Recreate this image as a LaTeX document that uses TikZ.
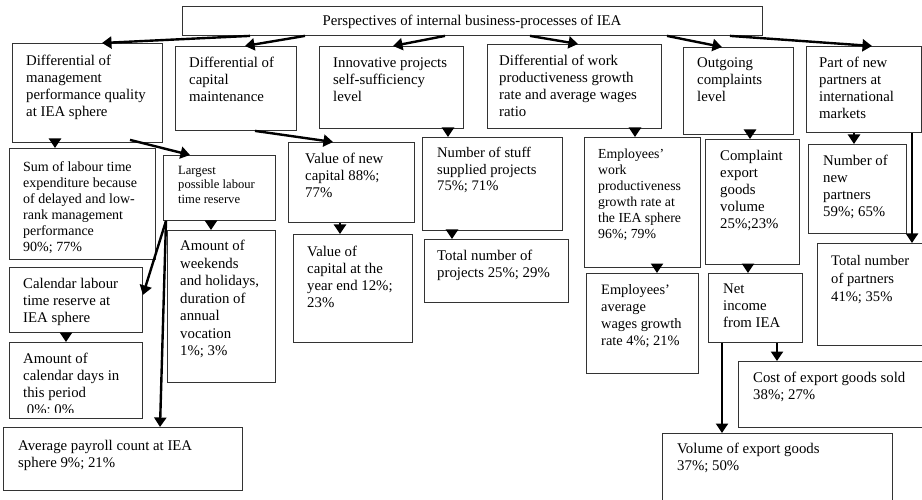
\documentclass[tikz,border=0pt]{standalone}
\usepackage{fontspec}
\setmainfont{Liberation Serif}
\usetikzlibrary{arrows.meta}
\newcommand{\fz}[2]{\fontsize{#1}{#2}\selectfont}
\tikzset{
  box/.style={draw=black!80, line width=0.9pt, rectangle, anchor=north west, inner sep=0pt},
  txt/.style={anchor=north west, inner sep=0pt, align=left, font=\fz{14.8}{17}},
  arr/.style={line width=2.4pt, -{Triangle[length=9.5pt,width=12pt]}},
}
\newcommand\bx[9][]{%
  \node[box, minimum width=#5pt, minimum height=#6pt] (#2) at (#3,#4) {};
  \node[txt,#1] (#2t) at ([xshift=#7pt,yshift=-#8pt]#2.north west) {#9};
}
\begin{document}
\begin{tikzpicture}[x=1pt,y=-1pt]
\useasboundingbox (0,0) rectangle (922,500);
\fill[white] (0,0) rectangle (922,500);
% top
\node[box, minimum width=580pt, minimum height=29pt] (top) at (182,6) {};
\node[font=\fz{14.8}{17}, inner sep=0pt] (topt) at (472,22) {Perspectives of internal business-processes of IEA};
% level 1
\bx{b1}{12}{43}{150}{99}{14}{12}{Differential of\\management\\performance quality\\at IEA sphere}
\bx{b2}{175}{46}{121}{84}{14}{11}{Differential of\\capital\\maintenance}
\bx{b3}{319}{46}{144}{82}{14}{12}{Innovative projects\\self-sufficiency\\level}
\bx{b4}{487}{44}{174}{84}{12}{11}{Differential of work\\productiveness growth\\rate and average wages\\ratio}
\bx{b5}{683}{47}{110}{87}{14}{11}{Outgoing\\complaints\\level}
\bx{b6}{806}{46}{115}{86}{13}{11}{Part of new\\partners at\\international\\markets}
% level 2+
\bx[font=\fz{14}{16}]{sum}{9}{148}{146}{111}{14}{13}{Sum of labour time\\expenditure because\\of delayed and low-\\rank management\\performance\\90\%; 77\%}
\bx[font=\fz{12.6}{14.5}]{lar}{163}{155}{112}{65}{15}{11}{Largest\\possible labour\\time reserve}
\bx[font=\fz{14.8}{17.5}]{awk}{167}{230}{108}{152}{13}{10}{Amount of\\weekends\\and holidays,\\duration of\\annual\\vocation\\1\%; 3\%}
\bx{cal}{9}{267}{133}{65}{14}{11}{Calendar labour\\time reserve at\\IEA sphere}
\node[box, minimum width=133pt, minimum height=76pt] (acd) at (9,342) {};
\begin{scope}
\clip (9,342) rectangle (142,412);
\node[txt] (acdt) at ([xshift=14pt,yshift=-11pt]acd.north west) {Amount of\\calendar days in\\this period\\\ 0\%; 0\%};
\end{scope}
\bx{avg}{3}{427}{239}{63}{15}{13}{Average payroll count at IEA\\sphere 9\%; 21\%}
\bx{vnc}{288}{142}{126}{80}{17}{11}{Value of new\\capital 88\%;\\77\%}
\bx{vye}{293}{234}{119}{108}{14}{12}{Value of\\capital at the\\year end 12\%;\\23\%}
\bx[font=\fz{14.6}{16.7}]{nsp}{422}{137}{140}{93}{15}{10}{Number of stuff\\supplied projects\\75\%; 71\%}
\bx{tnp}{424}{239}{144}{63}{13}{11}{Total number of\\projects 25\%; 29\%}
\bx[font=\fz{13.8}{16}]{ewp}{584}{137}{116}{130}{14}{12}{Employees'\\work\\productiveness\\growth rate at\\the IEA sphere\\96\%; 79\%}
\bx[font=\fz{14.4}{17}]{eaw}{586}{273}{112}{100}{15}{11}{Employees'\\average\\wages growth\\rate 4\%; 21\%}
\bx{cev}{705}{139}{94}{125}{15}{11}{Complaint\\export\\goods\\volume\\25\%;23\%}
\bx{nie}{708}{273}{94}{69}{15}{11}{Net\\income\\from IEA}
\bx{ceg}{738}{361}{190}{66}{15}{11}{Cost of export goods sold\\38\%; 27\%}
\bx{veg}{662}{433}{230}{80}{15}{10}{Volume of export goods\\37\%; 50\%}
\bx{nnp}{808}{144}{98}{89}{15}{11}{Number of\\new\\partners\\59\%; 65\%}
\bx[font=\fz{14.6}{18}]{tpa}{817}{243}{110}{102}{14}{12}{Total number\\of partners\\41\%; 35\%}
% arrows from top
\draw[arr] ([xshift=68pt]top.south west) -- ([xshift=90pt]b1.north west);
\draw[arr] ([xshift=123pt]top.south west) -- ([xshift=70pt]b2.north west);
\draw[arr] ([xshift=263pt]top.south west) -- ([xshift=74pt]b3.north west);
\draw[arr] ([xshift=348pt]top.south west) -- ([xshift=91pt]b4.north west);
\draw[arr] ([xshift=485pt]top.south west) -- ([xshift=39pt]b5.north west);
\draw[arr] ([xshift=548pt]top.south west) -- ([xshift=66pt]b6.north west);
% left branch
\draw[arr] ([xshift=43pt]b1.south west) -- ([xshift=46pt]sum.north west);
\draw[arr] ([xshift=118pt,yshift=3pt]b1.south west) -- ([xshift=27pt]lar.north west);
\draw[arr] ([xshift=48pt]lar.south west) -- ([xshift=44pt]awk.north west);
\draw[arr] ([xshift=3pt]lar.south west) -- ([yshift=-28pt]cal.north east);
\draw[arr] ([xshift=3pt]lar.south west) -- ([xshift=157pt]avg.north west);
\draw[arr] ([xshift=57pt]cal.south west) -- ([xshift=57pt]acd.north west);
% capital
\draw[arr] ([xshift=80pt]b2.south west) -- ([xshift=45pt]vnc.north west);
\draw[arr] ([xshift=52pt]vnc.south west) -- ([xshift=47pt]vye.north west);
% projects
\draw[arr] ([xshift=129pt]b3.south west) -- ([xshift=26pt]nsp.north west);
\draw[arr] ([xshift=30pt]nsp.south west) -- ([xshift=28pt]tnp.north west);
% productivity
\draw[arr] ([xshift=148pt]b4.south west) -- ([xshift=51pt]ewp.north west);
\draw[arr] ([xshift=73pt]ewp.south west) -- ([xshift=71pt]eaw.north west);
% complaints
\draw[arr] ([xshift=67pt]b5.south west) -- ([xshift=45pt]cev.north west);
\draw[arr] ([xshift=43pt]cev.south west) -- ([xshift=40pt]nie.north west);
\draw[arr] ([xshift=69pt]nie.south west) -- ([xshift=39pt]ceg.north west);
\draw[arr] ([xshift=14pt]nie.south west) -- ([xshift=60pt]veg.north west);
% partners
\draw[arr] ([xshift=48pt]b6.south west) -- ([xshift=46pt]nnp.north west);
\draw[arr] ([xshift=106pt]b6.south west) -- ([xshift=95pt]tpa.north west);
\end{tikzpicture}
\end{document}
